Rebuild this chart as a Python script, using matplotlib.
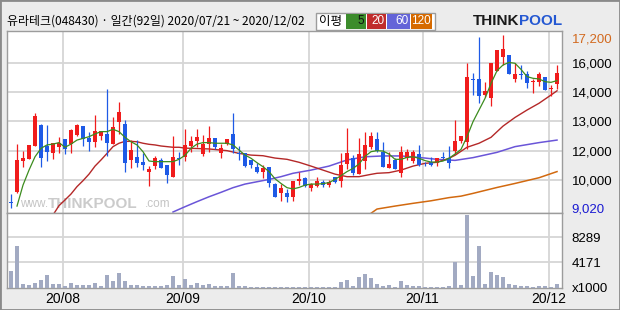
import numpy as np
import matplotlib.pyplot as plt
from matplotlib.patches import Rectangle
import matplotlib.transforms as mtransforms

plt.rcParams['font.family'] = ['Liberation Sans', 'DejaVu Sans']

# daily candles 2020/07/21 ~ 2020/12/02 (92 trading days)
opens = [9270, 9740, 11240, 11310, 11930, 12920, 11930, 11610, 11900, 12260,
         12010, 12450, 12870, 12320, 12130, 12400, 12480, 12020, 13080, 12950,
         11270, 11420, 11170, 10700, 10980, 11270, 11030, 10480, 11360, 11390,
         11940, 12170, 11550, 12020, 12320, 11580, 12020, 12480, 11600, 11610,
         11270, 10950, 10720, 10950, 10130, 9720, 9720, 9530, 10290, 10430,
         9930, 10050, 10210, 10080, 10480, 10290, 11080, 11360, 10600, 11240,
         11900, 12260, 11640, 10900, 11270, 10670, 11380, 11240, 11550, 11050,
         11190, 11140, 11410, 11380, 11710, 12170, 12130, 15100, 15100, 14340,
         14210, 15490, 16120, 16230, 15100, 15330, 15330, 14950, 14940, 15180,
         14640, 14840]
highs = [9660, 12020, 11710, 11980, 13500, 12950, 12920, 12090, 12340, 12260,
         12720, 12950, 12870, 12590, 13390, 12640, 14610, 13280, 14020, 13160,
         12210, 12210, 11580, 10980, 11460, 11380, 11030, 12400, 11660, 12730,
         12400, 12730, 12450, 12870, 12320, 12020, 12280, 13500, 11930, 11610,
         11270, 11140, 11030, 10950, 10160, 10130, 9900, 10270, 10680, 10480,
         10160, 10480, 10320, 10320, 10480, 11580, 12760, 11500, 12320, 12570,
         12570, 12570, 12100, 11630, 11380, 11930, 11790, 11740, 11980, 11190,
         11420, 11380, 11640, 11930, 13160, 12400, 15870, 15400, 17100, 14970,
         15870, 16470, 17200, 16230, 15840, 15760, 15490, 15080, 15440, 15180,
         14810, 15760]
lows = [9020, 9690, 10950, 11310, 11930, 10950, 11220, 11330, 11580, 11550,
        11610, 12400, 11930, 11710, 11900, 12210, 11460, 12020, 12480, 10720,
        10870, 10920, 10790, 10050, 10830, 10900, 10160, 10480, 11030, 11240,
        11660, 11900, 11460, 11660, 11770, 11380, 11980, 11610, 11270, 10950,
        10900, 10670, 10430, 10010, 9530, 9340, 9300, 9340, 10080, 10010,
        9820, 10010, 9970, 10010, 10200, 10010, 10830, 10560, 10600, 10830,
        11770, 11660, 10950, 10870, 10830, 10480, 11270, 11110, 11000, 11000,
        11000, 10980, 11300, 10870, 11550, 12090, 11770, 14340, 13950, 14260,
        13820, 15490, 15760, 15330, 14970, 15100, 14690, 14450, 14770, 14580,
        14310, 14620]
closes = [9250, 11270, 11380, 11980, 13350, 11350, 11660, 12060, 12090, 11800,
          12690, 12920, 12280, 12130, 12640, 12640, 12090, 12810, 13540, 11110,
          11740, 11140, 11050, 10830, 11380, 10900, 10570, 11390, 11330, 11980,
          12170, 12350, 12020, 12320, 11900, 11850, 12280, 11770, 11570, 11000,
          11030, 10700, 10900, 10160, 9530, 9930, 9530, 10270, 10370, 10040,
          10130, 10270, 10080, 10210, 10240, 11030, 11580, 10640, 11550, 11980,
          12400, 11710, 10950, 11080, 10830, 11640, 11640, 11630, 11030, 11010,
          11030, 11350, 11350, 11140, 12170, 12400, 15210, 15070, 14310, 14530,
          15870, 16470, 16520, 15330, 15330, 15290, 14890, 14990, 15330, 14580,
          14670, 15400]
# volume, x1000 shares
volumes = [2790, 6890, 660, 490, 820, 1310, 2130, 660, 660, 330,
           820, 490, 380, 490, 820, 330, 2130, 1150, 2460, 1150,
           490, 490, 330, 330, 330, 330, 490, 1970, 490, 1480,
           490, 820, 490, 660, 330, 330, 330, 2460, 330, 330,
           160, 160, 160, 160, 160, 160, 160, 160, 160, 160,
           160, 160, 160, 160, 160, 980, 1310, 330, 1800, 2300,
           1640, 660, 330, 490, 160, 1150, 490, 330, 330, 160,
           160, 160, 160, 330, 4270, 490, 11980, 1970, 6890, 660,
           2630, 2130, 1800, 660, 490, 330, 330, 160, 330, 330,
           160, 660]

# moving averages (day index, price)
ma5_x = list(range(1, 92))
ma5 = [9090, 10080, 10790, 11420, 11820, 11980, 12020, 12090, 11870, 12020,
       12210, 12290, 12370, 12500, 12610, 12610, 12720, 12610, 12340, 12130,
       11980, 11660, 11220, 11190, 11190, 11190, 11190, 11300, 11490, 11820,
       12020, 12090, 12090, 12060, 12060, 12060, 11980, 11740, 11500, 11350,
       11140, 10950, 10720, 10380, 10160, 9960, 9900, 9970, 10080, 10130,
       10130, 10150, 10200, 10350, 10530, 10720, 10870, 11080, 11440, 11660,
       11710, 11690, 11550, 11300, 11300, 11390, 11420, 11350, 11240, 11170,
       11170, 11220, 11350, 11550, 11770, 12370, 13080, 13630, 14180, 14890,
       15490, 15760, 15880, 15840, 15550, 15210, 15130, 15100, 14970, 14940,
       15020]
ma20_x = [7, 8, 9, 10, 11, 12, 13, 14, 15, 16, 17, 18, 19, 20, 21, 22, 23, 24,
          25, 26, 27, 28, 29, 30, 33, 36, 38, 40, 42, 44, 46, 48, 50, 52, 54,
          56, 58, 60, 61, 63, 65, 67, 69, 71, 73, 74, 76, 78, 80, 82, 84, 86,
          88, 90, 91]
ma20 = [8670, 9110, 9380, 9660, 10010, 10290, 10600, 10980, 11270, 11580,
        11900, 12060, 12150, 12150, 12130, 12060, 12010, 11980, 11930, 11900,
        11870, 11870, 11830, 11820, 11790, 11710, 11580, 11500, 11470, 11360,
        11300, 11160, 10980, 10790, 10600, 10480, 10480, 10590, 10640, 10670,
        10790, 10980, 11110, 11160, 11350, 11490, 11870, 12060, 12340, 12870,
        13280, 13630, 13950, 14340, 14540]
ma60_x = [27, 29, 31, 33, 35, 37, 39, 41, 43, 45, 47, 50, 53, 56, 59, 62, 65,
          68, 71, 74, 77, 81, 84, 88, 91]
ma60 = [8810, 9060, 9300, 9530, 9740, 9960, 10130, 10240, 10350, 10480,
        10640, 10790, 10980, 11270, 11420, 11460, 11460, 11390, 11300, 11250,
        11380, 11630, 11900, 12090, 12210]
ma120_x = [60, 61, 64, 67, 70, 73, 75, 77, 81, 84, 88, 91]
ma120 = [8750, 8950, 9090, 9220, 9340, 9490, 9560, 9690, 9970, 10160, 10430, 10720]

# axis labels
price_grid = [15850, 14480, 13110, 11690, 10320]
price_grid_labels = ['16,000', '14,000', '13,000', '12,000', '10,000']
vol_grid = [4171, 8289]
month_start = [9, 29, 50, 69, 90]
month_labels = ['20/08', '20/09', '20/10', '20/11', '20/12']

RED = '#f01c1c'
BLUE = '#1e5ae6'
GRID = '#d6d6d6'

W, H = 620, 310
fig = plt.figure(figsize=(W / 100, H / 100), dpi=100, facecolor='#ececec')

def fx(px):
    return px / W

def fy(py):
    return 1 - py / H

left, right = 7, 562
top, mid, bottom = 31, 212.7, 287.7
ax = fig.add_axes([fx(left), fy(mid), (right - left) / W, (mid - top) / H])
axv = fig.add_axes([fx(left), fy(bottom), (right - left) / W, (bottom - mid) / H])

idx = np.arange(len(closes))
o = np.array(opens)
c = np.array(closes)
col = np.where(c >= o, RED, BLUE)

# grid
month_pos = [m - 0.4 for m in month_start]
for a in (ax, axv):
    for m in month_pos:
        a.axvline(m, color=GRID, lw=1.3, zorder=0)
    a.set_facecolor('white')
    for s in a.spines.values():
        s.set_color('#9c9c9c')
        s.set_linewidth(1.0)
for g in price_grid:
    ax.axhline(g, color=GRID, lw=1.3, zorder=0)
for g in vol_grid:
    axv.axhline(g, color=GRID, lw=1.3, zorder=0)

# watermark
ax.text(0.024, 0.05, 'www.', transform=ax.transAxes, fontsize=8.5, color='#c4c4c4',
        va='center', ha='left', zorder=1)
ax.text(0.073, 0.05, 'THINKPOOL', transform=ax.transAxes, fontsize=11, fontweight='bold',
        color='#cbcbcb', va='center', ha='left', zorder=1)
ax.text(0.248, 0.05, '.com', transform=ax.transAxes, fontsize=8.5, color='#c4c4c4',
        va='center', ha='left', zorder=1)

# candles
ax.vlines(idx, lows, highs, colors=col, lw=0.9, zorder=3)
ax.bar(idx, np.maximum(np.abs(c - o), 45), bottom=np.minimum(o, c), width=0.8,
       color=col, linewidth=0, zorder=4)

# moving averages
ax.plot(ma120_x, ma120, color='#d2690f', lw=1.1, zorder=2)
ax.plot(ma60_x, ma60, color='#6a55d8', lw=1.1, zorder=2)
ax.plot(ma20_x, ma20, color='#b42828', lw=1.0, zorder=2)
ax.plot(ma5_x, ma5, color='#3c8c1e', lw=0.9, zorder=5)

ax.set_xlim(-0.667, 91.83)
ax.set_ylim(8777, 17366)
ax.set_xticks([])
ax.yaxis.tick_right()
ax.set_yticks([17200] + price_grid + [9020])
ax.set_yticklabels(['17,200'] + price_grid_labels + ['9,020'])
ax.tick_params(axis='y', length=0, pad=7, labelsize=9.5)
ylabels = ax.get_yticklabels()
ylabels[0].set_color('#d2691e')
ylabels[0].set_transform(ylabels[0].get_transform() +
                         mtransforms.ScaledTranslation(0, -3 / 100, fig.dpi_scale_trans))
ylabels[-1].set_color('#1a1ad2')

# volume
axv.bar(idx, volumes, width=0.78, color='#a2aac2', linewidth=0, zorder=3)
axv.set_xlim(-0.667, 91.83)
axv.set_ylim(0, 12315)
axv.yaxis.tick_right()
axv.set_yticks([0] + vol_grid)
axv.set_yticklabels(['x1000', '4171', '8289'])
axv.tick_params(axis='y', length=0, pad=7, labelsize=9.5)
axv.set_xticks(month_pos)
axv.set_xticklabels(month_labels)
axv.tick_params(axis='x', length=0, pad=3, labelsize=10)

# header
fig.text(fx(7), fy(21), '유라테크(048430) · 일간(92일) 2020/07/21 ~ 2020/12/02',
         family=['Noto Sans CJK KR', 'DejaVu Sans'], fontsize=8.6, va='center', ha='left')

# MA legend box
fig.patches.append(Rectangle((fx(316), fy(30)), (435 - 316) / W, 17 / H,
                             transform=fig.transFigure, facecolor='white',
                             edgecolor='#9c9c9c', lw=1))
fig.text(fx(331), fy(21.5), '이평', family=['Noto Sans CJK KR'], fontsize=9,
         va='center', ha='center')
legend_items = [('5', 346, 366, '#3c8c2c', '#111111'),
                ('20', 367, 386, '#c02c2c', 'white'),
                ('60', 387, 410, '#6464d8', 'white'),
                ('120', 411, 432, '#d66a00', 'white')]
for lab, x0, x1, fc, tc in legend_items:
    fig.patches.append(Rectangle((fx(x0), fy(28.5)), (x1 - x0) / W, 14 / H,
                                 transform=fig.transFigure, facecolor=fc, lw=0))
    fig.text(fx(x1 - 1.5), fy(21.5), lab, color=tc, fontsize=8.5, va='center', ha='right')

# logo
fig.text(fx(519), fy(21), 'THINK', fontsize=11, fontweight='bold', color='#1a1a1a',
         va='center', ha='right')
fig.text(fx(519), fy(21), 'POOL', fontsize=11, fontweight='bold', color='#2458d2',
         va='center', ha='left')

# outer frame
fig.patches.append(Rectangle((0, 0), 1, 1, transform=fig.transFigure, fill=False,
                             edgecolor='#8a8a8a', lw=2))

fig.savefig('out.png', dpi=100, facecolor=fig.get_facecolor())
